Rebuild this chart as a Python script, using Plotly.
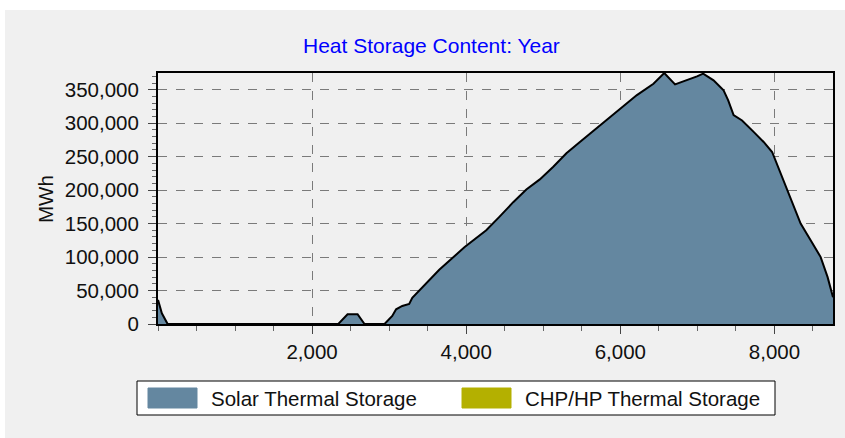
import plotly.graph_objects as go

# ---- data ----
hours = [0, 50, 125, 2340, 2460, 2590, 2680, 2940, 3040, 3090, 3170, 3260, 3300,
         3390, 3520, 3650, 3980, 4260, 4430, 4610, 4780, 4955, 5130, 5300, 5475,
         5735, 6000, 6215, 6430, 6570, 6710, 6865, 6995, 7075, 7210, 7340, 7400,
         7470, 7580, 7730, 7860, 7970, 8080, 8210, 8340, 8470, 8600, 8690, 8760]
solar_mwh = [36000, 16000, 0, 0, 14500, 14500, 0, 0, 12000, 22000, 27000, 30000, 39000,
             50000, 66000, 81000, 115000, 140000, 160000, 182000, 201000, 216000, 235000, 255000, 272000,
             297000, 322000, 342000, 359000, 375000, 358000, 364000, 370000, 374000, 364000, 349000, 334000,
             312000, 304000, 287000, 272000, 257000, 225000, 190000, 150000, 125000, 100000, 70000, 40000]
chp_hours = [0, 8760]
chp_mwh = [0, 0]

series_names = ["Solar Thermal Storage", "CHP/HP Thermal Storage"]
series_colors = ["#6487A0", "#B4B000"]
x_ticks = [2000, 4000, 6000, 8000]
y_ticks = [0, 50000, 100000, 150000, 200000, 250000, 300000, 350000]
title_text = "Heat Storage Content: Year"
y_title = "MWh"

# ---- layout geometry (pixels) ----
W, H = 845, 438
L, R, T, B = 158, 12, 73, 114
PW, PH = W - L - R, H - T - B


def px(x):
    return (x - L) / PW


def py(y):
    return (H - B - y) / PH


FONT = "Liberation Sans"
FS = 20.5

fig = go.Figure()
fig.add_trace(go.Scatter(x=chp_hours, y=chp_mwh, mode="lines", fill="tozeroy",
                         fillcolor=series_colors[1], line=dict(color=series_colors[1], width=0),
                         name=series_names[1], showlegend=False, hoverinfo="skip"))
fig.add_trace(go.Scatter(x=hours, y=solar_mwh, mode="lines", fill="tozeroy",
                         fillcolor=series_colors[0], line=dict(color="black", width=2),
                         name=series_names[0], showlegend=False))

shapes = [
    # white outer strips
    dict(type="rect", xref="paper", yref="paper", x0=px(0), x1=px(W), y0=py(0), y1=py(10),
         fillcolor="white", line_width=0, layer="above"),
    dict(type="rect", xref="paper", yref="paper", x0=px(0), x1=px(5), y0=py(0), y1=py(H),
         fillcolor="white", line_width=0, layer="above"),
    # legend box
    dict(type="rect", xref="paper", yref="paper", x0=px(137), x1=px(775), y0=py(381), y1=py(415),
         fillcolor="white", line=dict(color="black", width=1)),
]
annotations = [
    dict(text=title_text, xref="paper", yref="paper", x=px(431), y=py(45), showarrow=False,
         font=dict(family=FONT, size=21, color="#0000FF"), xanchor="center", yanchor="middle"),
    dict(text=y_title, xref="paper", yref="paper", x=px(45), y=py(199), showarrow=False,
         textangle=-90, font=dict(family=FONT, size=FS, color="#111111"),
         xanchor="center", yanchor="middle"),
]
swatch_x = [148, 462]
text_x = [209, 523]
for i in range(2):
    shapes.append(dict(type="rect", xref="paper", yref="paper", x0=px(swatch_x[i]), x1=px(swatch_x[i] + 49),
                       y0=py(388), y1=py(408), fillcolor=series_colors[i],
                       line=dict(color=series_colors[i], width=1)))
    annotations.append(dict(text=series_names[i], xref="paper", yref="paper", x=px(text_x[i]), y=py(398),
                            showarrow=False, xanchor="left", yanchor="middle",
                            font=dict(family=FONT, size=FS, color="#111111")))

fig.update_layout(
    width=W, height=H,
    margin=dict(l=L, r=R, t=T, b=B, autoexpand=False),
    paper_bgcolor="#F0F0F0", plot_bgcolor="#F0F0F0",
    font=dict(family=FONT, size=FS, color="#111111"),
    showlegend=False,
    shapes=shapes, annotations=annotations,
    xaxis=dict(range=[0, 8760], tickvals=x_ticks, tickformat=",d", ticks="outside", ticklen=8,
               tickcolor="#444444", showline=True, linecolor="black", linewidth=1.5, mirror=True,
               showgrid=True, gridcolor="#7a7a7a", griddash="dash", gridwidth=1.2, zeroline=False,
               ticklabelstandoff=1,
               minor=dict(dtick=500, tick0=0, ticks="outside", ticklen=5, tickcolor="#666666", showgrid=False)),
    yaxis=dict(range=[0, 375000], tickvals=y_ticks, tickformat=",d", ticks="outside", ticklen=8,
               tickcolor="#444444", showline=True, linecolor="black", linewidth=2, mirror=True,
               showgrid=True, gridcolor="#7a7a7a", griddash="dash", gridwidth=1.2, zeroline=False,
               ticklabelstandoff=5,
               minor=dict(dtick=10000, tick0=0, ticks="outside", ticklen=4, tickcolor="#666666", showgrid=False)),
)

fig.write_html("out.html", config={"displayModeBar": False},
               post_script="document.body.style.margin='0';document.body.style.overflow='hidden';")
